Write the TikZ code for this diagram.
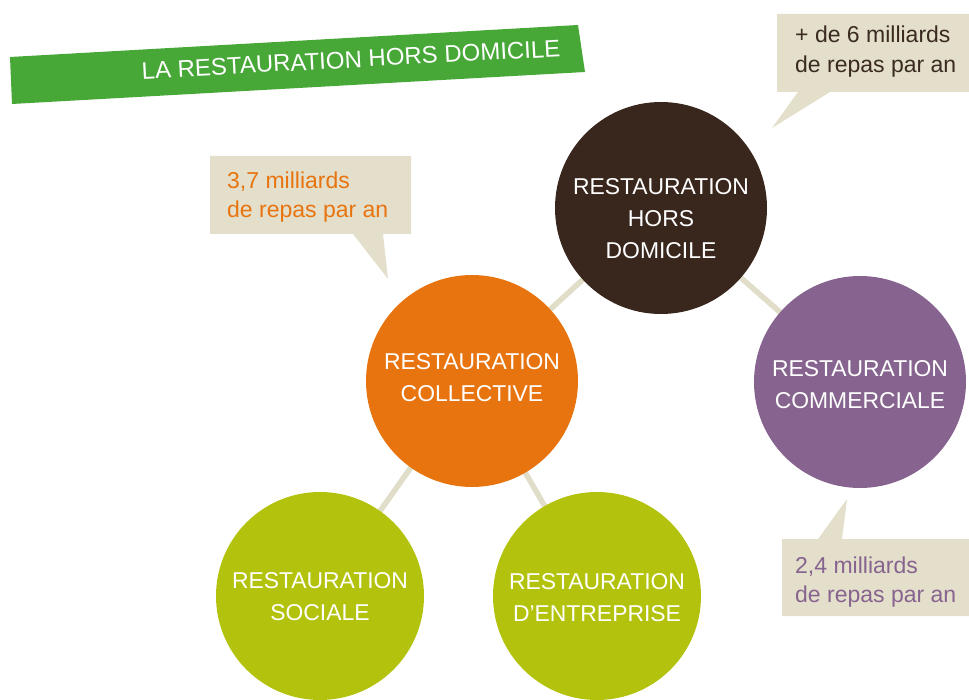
\documentclass[tikz,border=0pt]{standalone}
\usepackage{fontspec}
\setmainfont{Liberation Sans}
\definecolor{darkbrown}{HTML}{39271E}
\definecolor{orangeC}{HTML}{E8740F}
\definecolor{purpleC}{HTML}{87648F}
\definecolor{greenC}{HTML}{B3C20C}
\definecolor{beige}{HTML}{E3DFCB}
\definecolor{linkC}{HTML}{E0DDC8}
\definecolor{bannerG}{HTML}{47A737}
\definecolor{brownT}{HTML}{3A2A20}
\tikzset{
  circ/.style={circle, minimum size=212pt, inner sep=0pt},
  ctext/.style={text=white, align=center, inner sep=0pt, font=\fontsize{22.9}{32}\selectfont},
  link/.style={linkC, line width=5.5pt},
  callout/.style={fill=beige, draw=none},
  calltext/.style={anchor=base west, inner sep=0pt, font=\fontsize{23}{30}\selectfont},
}
\begin{document}
\begin{tikzpicture}[x=1pt,y=-1pt]
\useasboundingbox (0,0) rectangle (969,700);
\clip (0,0) rectangle (969,700);
% banner
\fill[bannerG] (10,57) -- (578,25) -- (585,72) -- (12,104) -- cycle;
\node[text=white, inner sep=0pt, rotate=3.1, font=\fontsize{24}{28}\selectfont] (title) at (351,59.5) {LA RESTAURATION HORS DOMICILE};
% circle positions
\coordinate (pTop) at (661,208);
\coordinate (pCol) at (472,381);
\coordinate (pCom) at (860,382);
\coordinate (pSoc) at (320,596);
\coordinate (pEnt) at (597,596);
% connectors
\draw[link] (pTop) -- (pCol);
\draw[link] (pTop) -- (pCom);
\draw[link] (pCol) -- (pSoc);
\draw[link] (pCol) -- (pEnt);
% circles
\node[circ, fill=darkbrown] (top) at (pTop) {};
\node[circ, fill=orangeC] (col) at (pCol) {};
\node[circ, fill=purpleC] (com) at (pCom) {};
\node[circ, fill=greenC, minimum size=208pt] (soc) at (pSoc) {};
\node[circ, fill=greenC, minimum size=208pt] (ent) at (pEnt) {};
\node[ctext] (topT) at (661,218.5) {RESTAURATION\\HORS\\DOMICILE};
\node[ctext] (colT) at (472,378) {RESTAURATION\\COLLECTIVE};
\node[ctext] (comT) at (860,384.5) {RESTAURATION\\COMMERCIALE};
\node[ctext] (socT) at (320,596.5) {RESTAURATION\\SOCIALE};
\node[ctext] (entT) at (597,597.5) {RESTAURATION\\D’ENTREPRISE};
% callouts
\fill[callout] (777,14) -- (969,14) -- (969,92) -- (830,92) -- (772,128) -- (798,92) -- (777,92) -- cycle;
\fill[callout] (210,156) -- (411,156) -- (411,234) -- (383,234) -- (388,279) -- (353,234) -- (210,234) -- cycle;
\fill[callout] (782,539) -- (818,539) -- (847,499) -- (842,539) -- (969,539) -- (969,616) -- (782,616) -- cycle;
\node[calltext, text=brownT] (c1a) at (795,43) {+ de 6 milliards};
\node[calltext, text=brownT] (c1b) at (795,73) {de repas par an};
\node[calltext, text=orangeC] (c2a) at (227,189) {3,7 milliards};
\node[calltext, text=orangeC] (c2b) at (227,218) {de repas par an};
\node[calltext, text=purpleC] (c3a) at (795,573) {2,4 milliards};
\node[calltext, text=purpleC] (c3b) at (795,602) {de repas par an};
\end{tikzpicture}
\end{document}
